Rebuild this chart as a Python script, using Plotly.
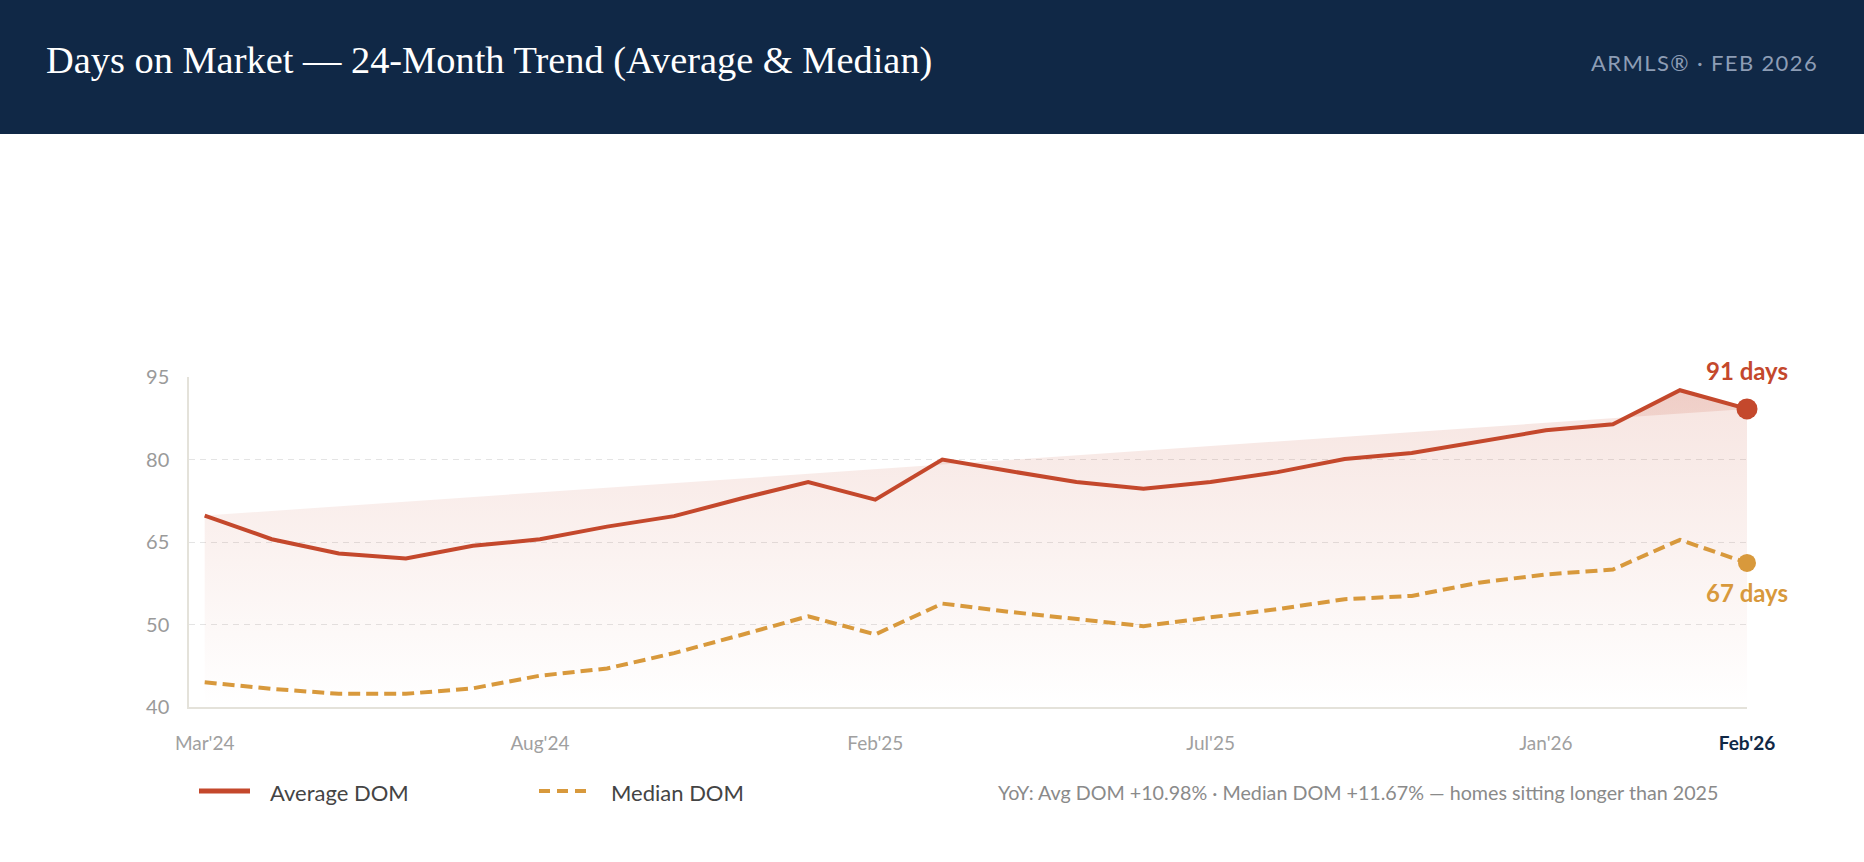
import plotly.graph_objects as go

# values (24 monthly points, Mar'24 -> Feb'26)
avg_dom = [69.8, 65.5, 62.9, 62.0, 64.3, 65.5, 67.8, 69.7, 72.9, 75.9, 72.7, 80.0,
           77.9, 75.9, 74.7, 75.9, 77.7, 80.1, 81.2, 83.3, 85.3, 86.4, 92.6, 89.2]
median_dom = [39.5, 38.3, 37.4, 37.4, 38.4, 40.7, 42.0, 44.8, 48.1, 51.5, 48.2, 53.8,
              52.3, 51.0, 49.7, 51.3, 52.8, 54.6, 55.2, 57.6, 59.1, 60.0, 65.4, 61.2]
x_idx = list(range(len(avg_dom)))

x_tick_pos = [0, 5, 10, 15, 20, 23]
x_tick_labels = ["Mar'24", "Aug'24", "Feb'25", "Jul'25", "Jan'26",
                 "<b><span style='color:#102846'>Feb'26</span></b>"]
y_tick_pos = [35, 50, 65, 80, 95]
y_tick_labels = ["40", "50", "65", "80", "95"]

avg_label = "91 days"
median_label = "67 days"
note = "YoY: Avg DOM +10.98% · Median DOM +11.67% — homes sitting longer than 2025"
source = "ARMLS® · FEB 2026"

RED = "#c4482c"
GOLD = "#d8993c"
NAVY = "#102846"

W, H = 1864, 862
ML, MR, MT, MB = 189, 117, 377, 155
pw = W - ML - MR
ph = H - MT - MB


def px(x):
    return (x - ML) / pw


def py(y):
    return (H - MB - y) / ph


grad = dict(type="vertical", start=35, stop=95,
            colorscale=[[0, "rgba(196,72,44,0.0)"], [1, "rgba(196,72,44,0.15)"]])

fig = go.Figure()

# area under the average line
fig.add_trace(go.Scatter(x=x_idx, y=avg_dom, mode="lines", line=dict(width=0),
                         fill="tozeroy", fillgradient=grad, hoverinfo="skip",
                         showlegend=False))
# average line closed on itself (gives the straight chord edge)
fig.add_trace(go.Scatter(x=x_idx, y=avg_dom, mode="lines", line=dict(width=0),
                         fill="toself", fillgradient=grad, hoverinfo="skip",
                         showlegend=False))

fig.add_trace(go.Scatter(x=x_idx, y=median_dom, mode="lines", name="Median DOM",
                         line=dict(color=GOLD, width=4, dash="12px,6px"),
                         cliponaxis=False, showlegend=False))
fig.add_trace(go.Scatter(x=x_idx, y=avg_dom, mode="lines", name="Average DOM",
                         line=dict(color=RED, width=4), cliponaxis=False,
                         showlegend=False))

# end markers
fig.add_trace(go.Scatter(x=[x_idx[-1]], y=[avg_dom[-1]], mode="markers",
                         marker=dict(color=RED, size=21), cliponaxis=False,
                         showlegend=False))
fig.add_trace(go.Scatter(x=[x_idx[-1]], y=[median_dom[-1]], mode="markers",
                         marker=dict(color=GOLD, size=18), cliponaxis=False,
                         showlegend=False))

fig.add_annotation(x=x_idx[-1], y=avg_dom[-1], text="<b>" + avg_label + "</b>",
                   showarrow=False, yshift=38, font=dict(family="Lato", size=24, color=RED))
fig.add_annotation(x=x_idx[-1], y=median_dom[-1], text="<b>" + median_label + "</b>",
                   showarrow=False, yshift=-30, font=dict(family="Lato", size=24, color=GOLD))

# header band
fig.add_shape(type="rect", xref="paper", yref="paper", x0=px(-2), x1=px(W + 2),
              y0=py(134), y1=py(-2), fillcolor=NAVY, line=dict(width=0), layer="below")
fig.add_annotation(xref="paper", yref="paper", x=px(44), y=py(60), xanchor="left",
                   yanchor="middle", showarrow=False,
                   text="Days on Market — 24-Month Trend (Average & Median)",
                   font=dict(family="Liberation Serif", size=38.4, color="white"))
fig.add_annotation(xref="paper", yref="paper", x=px(1819), y=py(62), xanchor="right",
                   yanchor="middle", showarrow=False,
                   text="\u200a".join(source),
                   font=dict(family="Lato", size=22, color="#8d9db5"))

# legend drawn by hand
fig.add_shape(type="line", xref="paper", yref="paper", x0=px(199), x1=px(250),
              y0=py(791), y1=py(791), line=dict(color=RED, width=5))
fig.add_shape(type="line", xref="paper", yref="paper", x0=px(539), x1=px(590),
              y0=py(791), y1=py(791), line=dict(color=GOLD, width=4, dash="11px,7px"))
fig.add_annotation(xref="paper", yref="paper", x=px(268), y=py(792), xanchor="left",
                   yanchor="middle", showarrow=False, text="Average DOM",
                   font=dict(family="Lato", size=22, color="#444444"))
fig.add_annotation(xref="paper", yref="paper", x=px(609), y=py(792), xanchor="left",
                   yanchor="middle", showarrow=False, text="Median DOM",
                   font=dict(family="Lato", size=22, color="#444444"))
fig.add_annotation(xref="paper", yref="paper", x=px(1720), y=py(792), xanchor="right",
                   yanchor="middle", showarrow=False, text=note,
                   font=dict(family="Lato", size=19.7, color="#8a8a8a"))

fig.update_layout(
    width=W, height=H,
    margin=dict(l=ML, r=MR, t=MT, b=MB),
    paper_bgcolor="white", plot_bgcolor="white",
    showlegend=False,
    font=dict(family="Lato"),
)
fig.update_xaxes(range=[-0.234, 23], tickvals=x_tick_pos, ticktext=x_tick_labels,
                 showgrid=False, zeroline=False, showline=True, linecolor="#e4e2da",
                 linewidth=1.5, ticks="", ticklabelstandoff=18,
                 tickfont=dict(family="Lato", size=19, color="#a0a0a0"))
fig.update_yaxes(range=[35, 95], tickvals=y_tick_pos, ticktext=y_tick_labels,
                 showgrid=True, gridcolor="#e4e4e4", griddash="6px,5px", gridwidth=1,
                 zeroline=False, showline=True, linecolor="#e4e2da", linewidth=1.5,
                 ticks="", ticklabelstandoff=14,
                 tickfont=dict(family="Lato", size=20, color="#9a9a9a"))

fig.write_html("out.html", config={"displayModeBar": False},
               post_script="document.body.style.margin='0';")
